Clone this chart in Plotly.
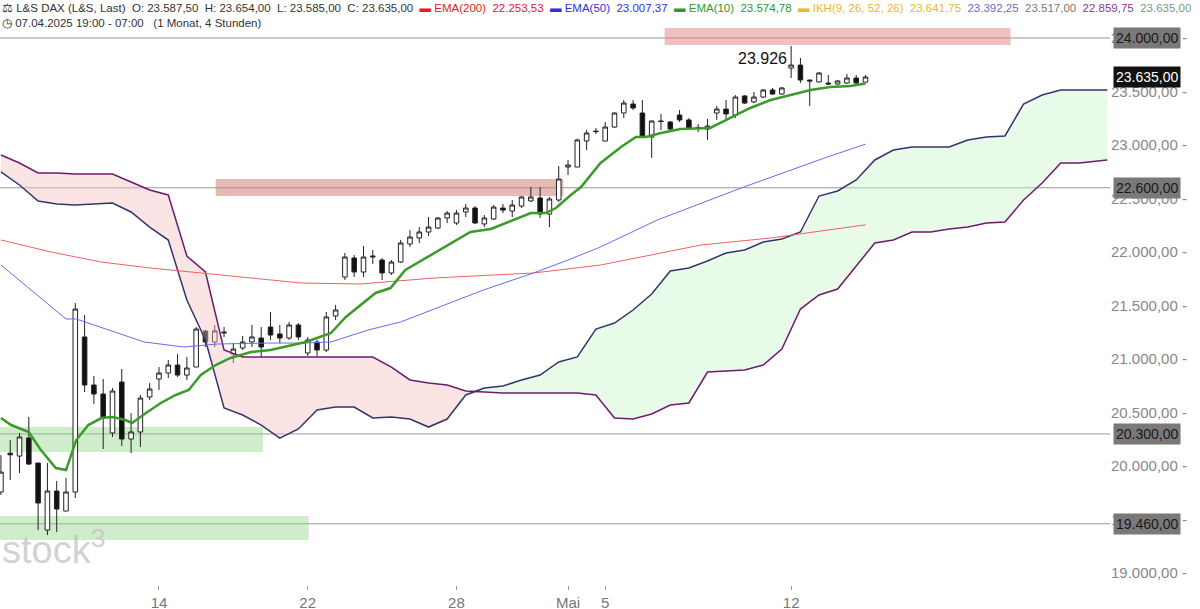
import plotly.graph_objects as go

# ---------------- data (4h candles, index 0..93) ----------------
opens = [19757,20120,20093,20262,20028,19401,19766,19579,19757,21206,20757,20673,20309,20785,20252,20318,20645,20813,20869,20944,
         20850,20925,21262,21159,21252,21047,21103,21159,21196,21299,21234,21196,21318,21056,21159,21084,21402,21766,21944,21813,
         21963,21925,21804,21906,22075,22131,22187,22224,22318,22271,22374,22411,22262,22308,22411,22383,22430,22477,22505,22355,
         22486,22794,22794,23037,23130,23037,23168,23299,23383,23299,23075,23224,23215,23280,23234,23165,23149,23299,23336,23280,
         23458,23402,23448,23514,23476,23719,23747,23607,23589,23579,23570,23579,23626,23587.5]
highs = [20102,20243,20309,20458,20028,20028,19860,19888,21523,21411,20841,20813,20729,20906,20495,20664,20776,20925,20991,21047,
         21019,21299,21271,21318,21299,21149,21215,21318,21299,21439,21318,21346,21336,21206,21178,21439,21505,21991,21972,22056,
         22019,21944,21925,22112,22205,22233,22327,22327,22383,22392,22448,22430,22346,22439,22448,22486,22523,22607,22607,22514,
         22804,22860,23060,23140,23159,23215,23305,23420,23420,23420,23230,23290,23224,23327,23252,23196,23243,23364,23420,23467,
         23467,23495,23523,23533,23540,23926,23813,23610,23680,23654,23607,23664,23654,23654]
lows = [19729,19869,19934,20009,19401,19355,19383,19579,19701,20692,20579,20159,20271,20187,20121,20178,20617,20710,20822,20832,
        20804,20925,21112,21112,21206,20962,21084,21112,21019,21178,21149,21178,21178,21028,21028,21065,21364,21738,21766,21766,
        21888,21738,21785,21897,22047,22084,22149,22215,22271,22252,22327,22262,22233,22299,22364,22327,22411,22467,22318,22233,
        22467,22720,22794,22953,23103,23037,23159,23252,23327,23075,22879,23140,23131,23215,23140,23121,23047,23234,23234,23252,
        23383,23392,23439,23467,23467,23626,23579,23364,23585,23561,23561,23570,23570,23585]
closes = [19943,20105,20271,20018,19654,19766,19598,19757,21467,20757,20673,20458,20701,20252,20318,20635,20720,20869,20944,20850,
          20916,21280,21159,21262,21245,21093,21159,21206,21112,21224,21196,21318,21206,21178,21084,21393,21458,21953,21813,21953,
          21955,21804,21906,22084,22140,22187,22233,22318,22364,22364,22411,22271,22318,22420,22392,22439,22514,22514,22355,22495,
          22682,22813,23047,23112,23125,23168,23299,23392,23346,23075,23224,23220,23149,23234,23159,23159,23177,23336,23290,23448,
          23392,23448,23514,23476,23533,23747,23607,23598,23673,23570,23598,23626,23579,23635]

ema10_idx = [0,1.1,3.0,4.3,5.9,7.0,8.1,9.4,10.8,12.0,13.4,14.1,15.6,17.2,18.8,20.2,21.5,23.1,24.7,26.9,29.0,31.2,32.8,35.5,37.1,
             40.3,41.9,43.5,46.2,48.9,50.5,52.7,54.8,57.0,58.6,59.7,61.3,62.4,64.5,66.7,68.3,69.4,71.0,73.1,76.3,78.5,80.6,82.8,
             84.9,87.1,89.2,91.4,93]
ema10 = [20448,20383,20318,20149,19981,19962,20243,20383,20448,20458,20430,20402,20495,20589,20664,20710,20850,20944,21010,21065,
         21084,21131,21159,21243,21393,21617,21663,21832,21972,22112,22187,22215,22290,22364,22364,22411,22533,22607,22832,22981,
         23075,23075,23112,23149,23159,23252,23346,23420,23467,23514,23542,23551,23574.78]
ema50_idx = [0,3.2,7.0,8.1,12.2,15.4,19.7,23.3,28.7,32.3,35.5,39.5,43.0,48.4,51.9,57.3,61.0,64.5,70.6,79.9,88.9,93]
ema50 = [21878,21645,21374,21374,21252,21159,21112,21140,21149,21149,21159,21271,21346,21523,21645,21804,21925,22047,22299,22607,
         22888,23007.37]
ema200_idx = [0,5.4,10.8,16.1,21.5,26.9,32.3,38.7,46.6,57.3,64.5,75.3,82.8,93]
ema200 = [22112,22000,21906,21850,21804,21757,21710,21701,21757,21804,21878,22065,22131,22253.53]

cloud_idx = list(range(0, 119, 2)) + [119]
span_a = [22748,22626,22477,22448,22439,22448,22458,22374,22233,22112,21551,21178,20542,20477,20383,20261,20346,20523,20551,20551,
          20449,20458,20439,20364,20439,20664,20729,20748,20804,20850,20972,21019,21280,21336,21458,21607,21822,21850,21916,21991,
          22019,22093,22121,22187,22523,22570,22673,22860,22953,22981,22981,22981,23047,23075,23084,23383,23467,23514,23514,23514,23514]
span_b = [22906,22832,22738,22738,22729,22729,22729,22654,22579,22533,21963,21813,21084,21019,21019,21019,21019,21019,21019,21019,
          21019,20925,20804,20776,20757,20701,20692,20682,20682,20682,20682,20682,20664,20449,20439,20486,20570,20589,20878,20888,
          20897,20944,21093,21467,21598,21654,21869,22084,22112,22187,22187,22215,22233,22271,22280,22486,22645,22832,22832,22850,22860]

tick_pos = [17, 33, 49, 61, 65, 85]
tick_labels = ["14", "22", "28", "Mai", "5", "12"]
ytick_vals = [19000, 19500, 20000, 20500, 21000, 21500, 22000, 22500, 23000, 23500, 24000]
level_lines = [24000, 22600, 20300, 19460]
last_price = 23635
high_label = 23926

fmt = lambda v: f"{v:,.2f}".replace(",", "X").replace(".", ",").replace("X", ".")

fig = go.Figure()
x_c = list(range(len(opens)))
upper = [max(a, b) for a, b in zip(span_a, span_b)]
lower = [min(a, b) for a, b in zip(span_a, span_b)]
fig.add_trace(go.Scatter(x=cloud_idx, y=span_a, mode="lines", line=dict(width=0), hoverinfo="skip"))
fig.add_trace(go.Scatter(x=cloud_idx, y=upper, mode="lines", line=dict(width=0), fill="tonexty",
                         fillcolor="rgba(243,190,190,0.42)", hoverinfo="skip"))
fig.add_trace(go.Scatter(x=cloud_idx, y=span_a, mode="lines", line=dict(width=0), hoverinfo="skip"))
fig.add_trace(go.Scatter(x=cloud_idx, y=lower, mode="lines", line=dict(width=0), fill="tonexty",
                         fillcolor="rgba(200,245,200,0.42)", hoverinfo="skip"))
fig.add_trace(go.Scatter(x=cloud_idx, y=span_a, mode="lines", line=dict(color="#35356e", width=1.5)))
fig.add_trace(go.Scatter(x=cloud_idx, y=span_b, mode="lines", line=dict(color="#6e1a6e", width=1.5)))
fig.add_trace(go.Scatter(x=ema200_idx, y=ema200, mode="lines", line=dict(color="#f06060", width=1)))
fig.add_trace(go.Scatter(x=ema50_idx, y=ema50, mode="lines", line=dict(color="#6a6af5", width=1)))
fig.add_trace(go.Scatter(x=ema10_idx, y=ema10, mode="lines", line=dict(color="#3a9a2a", width=2.5)))
fig.add_trace(go.Candlestick(x=x_c, open=opens, high=highs, low=lows, close=closes, whiskerwidth=0,
                             increasing=dict(fillcolor="white", line=dict(color="#222", width=1)),
                             decreasing=dict(fillcolor="#111", line=dict(color="#222", width=1))))

shapes = []
for lv in level_lines:
    shapes.append(dict(type="line", xref="paper", x0=0, x1=1, y0=lv, y1=lv, line=dict(color="#999", width=1), layer="below"))
zones = [(71.4, 108.6, 23935, 24093, "rgba(225,130,125,0.5)"),
         (23.1, 60.5, 22523, 22682, "rgba(205,120,110,0.5)"),
         (-1, 28.2, 20131, 20364, "rgba(150,215,140,0.45)"),
         (-1, 33.1, 19308, 19533, "rgba(150,215,140,0.45)")]
for x0, x1, y0, y1, c in zones:
    shapes.append(dict(type="rect", x0=x0, x1=x1, y0=y0, y1=y1, fillcolor=c, line=dict(width=0), layer="below"))

ann = []
for lv in level_lines + [last_price]:
    dark = lv == last_price
    ann.append(dict(xref="paper", x=1.0, y=lv, xanchor="left", xshift=3, text=fmt(lv), showarrow=False,
                    bgcolor="#111" if dark else "#7a7878", font=dict(size=14, color="white" if dark else "#1a1a1a"),
                    borderpad=2))
ann.append(dict(x=85, y=high_label, xanchor="right", yanchor="top", xshift=-2, yshift=-2,
                text=f"{high_label:,}".replace(",", "."), showarrow=False, font=dict(size=16, color="#111")))
ann.append(dict(xref="paper", yref="paper", x=0.0, y=0.02, xanchor="left", yanchor="bottom",
                text="stock<sup>3</sup>", showarrow=False, font=dict(size=38, color="rgba(190,190,190,0.7)")))
ann.append(dict(xref="paper", yref="paper", x=0.0, y=1.0, xanchor="left", yanchor="top", showarrow=False,
                align="left", font=dict(size=11.5, color="#333"),
                text=("⚖ L&S DAX (L&S, Last)  O: 23.587,50  H: 23.654,00  L: 23.585,00  C: 23.635,00  "
                      "<span style='color:#e02020'>▬ EMA(200)  22.253,53</span>  "
                      "<span style='color:#3030e0'>▬ EMA(50)  23.007,37</span>  "
                      "<span style='color:#2a9a2a'>▬ EMA(10)  23.574,78</span>  "
                      "<span style='color:#e8b830'>▬ IKH(9, 26, 52, 26)  23.641,75</span>  "
                      "<span style='color:#6a6ad0'>23.392,25</span>  <span style='color:#777'>23.517,00</span>  "
                      "<span style='color:#8a3a8a'>22.859,75</span>  <span style='color:#7a9a7a'>23.635,00</span>"
                      "<br>◷ 07.04.2025 19:00 - 07:00   (1 Monat, 4 Stunden)")))

fig.update_layout(
    width=1200, height=609, margin=dict(l=0, r=90, t=0, b=24, autoexpand=False),
    paper_bgcolor="white", plot_bgcolor="white", showlegend=False,
    font=dict(family="Liberation Sans, Arial, sans-serif"),
    shapes=shapes, annotations=ann, hovermode=False,
    xaxis=dict(range=[-0.1, 119.3], tickvals=tick_pos, ticktext=tick_labels, showgrid=False, zeroline=False,
               rangeslider=dict(visible=False), ticks="outside", ticklen=4, tickcolor="#999",
               tickfont=dict(size=15, color="#777"), showline=False),
    yaxis=dict(side="right", range=[18888, 24355], tickvals=ytick_vals, ticktext=[fmt(v) + " -" for v in ytick_vals],
               showgrid=False, zeroline=False, tickfont=dict(size=15, color="#888"), ticks=""),
)
fig.write_html("out.html", config={"displayModeBar": False},
               post_script="document.body.style.margin='0';document.body.style.overflow='hidden';")
